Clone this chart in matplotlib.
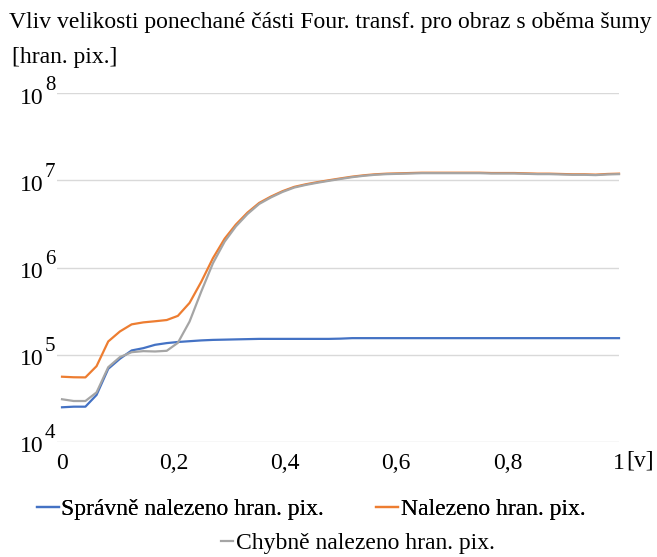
import matplotlib
matplotlib.use('Agg')
import matplotlib.pyplot as plt
from matplotlib.lines import Line2D
import matplotlib.transforms as mtransforms

plt.rcParams['font.family'] = ['Liberation Serif', 'DejaVu Serif']

# podil ponechane casti Fourierovy transformace
podil = [0.0, 0.021, 0.042, 0.062, 0.083, 0.104, 0.125, 0.146, 0.167, 0.188,
         0.208, 0.229, 0.25, 0.271, 0.292, 0.312, 0.333, 0.354, 0.375, 0.396,
         0.417, 0.438, 0.458, 0.479, 0.5, 0.521, 0.542, 0.562, 0.583, 0.604,
         0.625, 0.646, 0.667, 0.688, 0.708, 0.729, 0.75, 0.771, 0.792, 0.812,
         0.833, 0.854, 0.875, 0.896, 0.917, 0.938, 0.958, 0.979, 1.0]

spravne = [25000, 25400, 25400, 34600, 69000, 90000, 112000, 119000, 130000, 136000,
           140000, 143000, 146000, 148000, 149000, 150000, 151000, 152000, 152000, 152000,
           152000, 152000, 152000, 152000, 153000, 155000, 155000, 155000, 155000, 155000,
           155000, 155000, 155000, 155000, 155000, 155000, 155000, 155000, 155000, 155000,
           155000, 155000, 155000, 155000, 155000, 155000, 155000, 155000, 155000]

nalezeno = [56000, 55200, 55000, 74000, 142000, 185000, 223000, 235000, 242000, 250000,
            279000, 393000, 686000, 1.28e6, 2.14e6, 3.1e6, 4.26e6, 5.5e6, 6.5e6, 7.5e6,
            8.4e6, 9.0e6, 9.5e6, 1.0e7, 1.05e7, 1.10e7, 1.14e7, 1.17e7, 1.19e7, 1.20e7,
            1.21e7, 1.22e7, 1.22e7, 1.22e7, 1.22e7, 1.22e7, 1.22e7, 1.21e7, 1.21e7, 1.21e7,
            1.20e7, 1.19e7, 1.19e7, 1.18e7, 1.17e7, 1.17e7, 1.16e7, 1.18e7, 1.19e7]

chybne = [30900, 29500, 29500, 37000, 72000, 94000, 107000, 110000, 109000, 111000,
          137000, 240000, 530000, 1.12e6, 1.98e6, 2.95e6, 4.1e6, 5.35e6, 6.35e6, 7.35e6,
          8.25e6, 8.85e6, 9.35e6, 9.85e6, 1.035e7, 1.085e7, 1.125e7, 1.155e7, 1.175e7, 1.185e7,
          1.195e7, 1.205e7, 1.205e7, 1.205e7, 1.205e7, 1.205e7, 1.205e7, 1.195e7, 1.195e7, 1.195e7,
          1.185e7, 1.175e7, 1.175e7, 1.165e7, 1.155e7, 1.155e7, 1.145e7, 1.165e7, 1.175e7]

x_ticks = [0, 0.2, 0.4, 0.6, 0.8, 1.0]
x_labels = ['0', '0,2', '0,4', '0,6', '0,8', '1']
y_exps = [4, 5, 6, 7, 8]

W, H = 657, 557
fig = plt.figure(figsize=(W / 100, H / 100), dpi=100)
ax = fig.add_axes([57 / W, 1 - 442 / H, (619 - 57) / W, (442 - 93) / H])

modra = '#4472C4'
oranzova = '#ED7D31'
seda = '#A5A5A5'

ax.plot(podil, spravne, color=modra, lw=1.6, clip_on=False)
ax.plot(podil, nalezeno, color=oranzova, lw=1.6, clip_on=False)
ax.plot(podil, chybne, color=seda, lw=1.6, clip_on=False)

ax.set_yscale('log')
ax.set_ylim(1e4, 1e8)
ax.set_xlim(-0.009, 1.0)
ax.set_yticks([10.0 ** e for e in y_exps])
ax.set_yticklabels([])
ax.minorticks_off()
ax.yaxis.grid(True, color='#d9d9d9', lw=1)
ax.set_axisbelow(True)
for s in ax.spines.values():
    s.set_visible(False)
ax.tick_params(length=0)
ax.set_xticks(x_ticks)
ax.set_xticklabels(x_labels, fontsize=17)
ax.tick_params(axis='x', pad=8)

# popisky osy y ve tvaru 10^n
trans = mtransforms.blended_transform_factory(fig.transFigure, ax.transData)
for e in y_exps:
    off = mtransforms.offset_copy(trans, fig=fig, x=0, y=-5, units='dots')
    ax.text(43.5 / W, 10.0 ** e, '10', transform=off, ha='right', va='center',
            fontsize=17)
    off2 = mtransforms.offset_copy(trans, fig=fig, x=0, y=8, units='dots')
    ax.text(45 / W, 10.0 ** e, str(e), transform=off2, ha='left', va='center',
            fontsize=15)

fig.text(640 / W, 1 - 461 / H, '[v]', ha='center', va='center', fontsize=17)
fig.text(9 / W, 1 - 28 / H,
         'Vliv velikosti ponechané části Four. transf. pro obraz s oběma šumy',
         ha='left', va='baseline', fontsize=17)
fig.text(12 / W, 1 - 63 / H, '[hran. pix.]', ha='left', va='baseline', fontsize=17)

h1 = Line2D([], [], color=modra, lw=1.6)
h2 = Line2D([], [], color=oranzova, lw=1.6)
h3 = Line2D([], [], color=seda, lw=1.6)
leg1 = fig.legend([h1, h2], ['Správně nalezeno hran. pix.', 'Nalezeno hran. pix.'],
                  loc='center', bbox_to_anchor=(311 / W, 1 - 509 / H), ncol=2,
                  frameon=False, fontsize=17, handlelength=0.95, handletextpad=0.1,
                  columnspacing=2.2, borderpad=0, borderaxespad=0)
fig.add_artist(leg1)
fig.legend([h3], ['Chybně nalezeno hran. pix.'],
           loc='center', bbox_to_anchor=(358 / W, 1 - 543 / H),
           frameon=False, fontsize=17, handlelength=0.5, handletextpad=0.1,
           borderpad=0, borderaxespad=0)

fig.savefig('out.png', dpi=100)
